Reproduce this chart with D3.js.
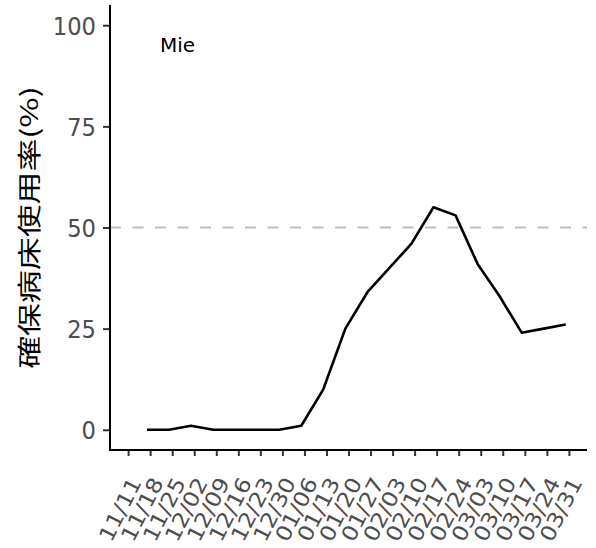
<!DOCTYPE html>
<html><head><meta charset="utf-8">
<script src="https://cdn.jsdelivr.net/npm/d3@7"></script>
<style>body{margin:0;background:#fff}</style>
</head><body>
<script>
const dates = ["2020-11-17","2020-11-24","2020-12-01","2020-12-08","2020-12-15","2020-12-22","2020-12-29","2021-01-05","2021-01-12","2021-01-19","2021-01-26","2021-02-02","2021-02-09","2021-02-16","2021-02-23","2021-03-02","2021-03-09","2021-03-16","2021-03-23","2021-03-30"];
const values = [0,0,1,0,0,0,0,1,10,25,34,40,46,55,53,41,33,24,25,26];
const tickDates = ["2020-11-11","2020-11-18","2020-11-25","2020-12-02","2020-12-09","2020-12-16","2020-12-23","2020-12-30","2021-01-06","2021-01-13","2021-01-20","2021-01-27","2021-02-03","2021-02-10","2021-02-17","2021-02-24","2021-03-03","2021-03-10","2021-03-17","2021-03-24","2021-03-31"];
const yTicks = [0,25,50,75,100];
const refValue = 50;
const region = "Mie";
const yTitle = "確保病床使用率(%)";

const W=596,H=548, L=110,R=587,T=5,B=450;
const parse = d3.utcParse("%Y-%m-%d");
const t0 = parse(tickDates[0]), t1 = parse(tickDates[tickDates.length-1]);
const padDays = 5.75*864e5;
const x = d3.scaleUtc().domain([new Date(+t0-padDays), new Date(+t1+padDays)]).range([L,R]);
const y = d3.scaleLinear().domain([-5,105]).range([B,T]);

const svg = d3.select("body").append("svg").attr("width",W).attr("height",H);

// reference line
svg.append("line").attr("x1",L).attr("x2",R).attr("y1",y(refValue)).attr("y2",y(refValue))
  .attr("stroke","#bebebe").attr("stroke-width",2.2).attr("stroke-dasharray","11,11.5");

// data line
const data = dates.map((d,i)=>({d:parse(d),v:values[i]}));
svg.append("path").datum(data).attr("fill","none").attr("stroke","#000").attr("stroke-width",2.6)
  .attr("stroke-linejoin","round")
  .attr("d", d3.line().x(d=>x(d.d)).y(d=>y(d.v)));

// y axis
const ya = svg.append("g").attr("transform",`translate(${L},0)`)
  .call(d3.axisLeft(y).tickValues(yTicks).tickSize(7).tickPadding(8));
ya.select(".domain").remove();
ya.selectAll(".tick line").attr("stroke","#333").attr("stroke-width",2);
ya.selectAll(".tick text").attr("fill","#4d4d4d").style("font-family","DejaVu Sans").style("font-size","22px")
  .attr("x",0).attr("dy","0.36em").attr("transform","translate(-14,0) scale(1.03,1.12)");

// x axis
const xa = svg.append("g").attr("transform",`translate(0,${B})`)
  .call(d3.axisBottom(x).tickValues(tickDates.map(parse)).tickFormat(d3.utcFormat("%m/%d")).tickSize(6).tickPadding(4));
xa.select(".domain").remove();
xa.selectAll(".tick line").attr("stroke","#333").attr("stroke-width",2);
xa.selectAll(".tick text").attr("fill","#4d4d4d").style("font-family","DejaVu Sans").style("font-size","21px")
  .attr("text-anchor","end").attr("x",0).attr("y",0).attr("dy","0.35em")
  .attr("transform","translate(7,29) rotate(-63) scale(1.13,1)");

// axis lines
svg.append("line").attr("x1",L).attr("x2",L).attr("y1",T).attr("y2",B+1).attr("stroke","#000").attr("stroke-width",2);
svg.append("line").attr("x1",L-1).attr("x2",R).attr("y1",B).attr("y2",B).attr("stroke","#000").attr("stroke-width",2);

// region label
svg.append("text").attr("x",160).attr("y",52)
  .style("font-family","DejaVu Sans").style("font-size","20px").text(region);

// y title
svg.append("text").attr("transform",`translate(38,${(T+B)/2}) rotate(-90) scale(1.37,1)`).attr("text-anchor","middle")
  .style("font-family","Noto Sans CJK JP").style("font-size","24px").text(yTitle);
</script>
</body></html>
